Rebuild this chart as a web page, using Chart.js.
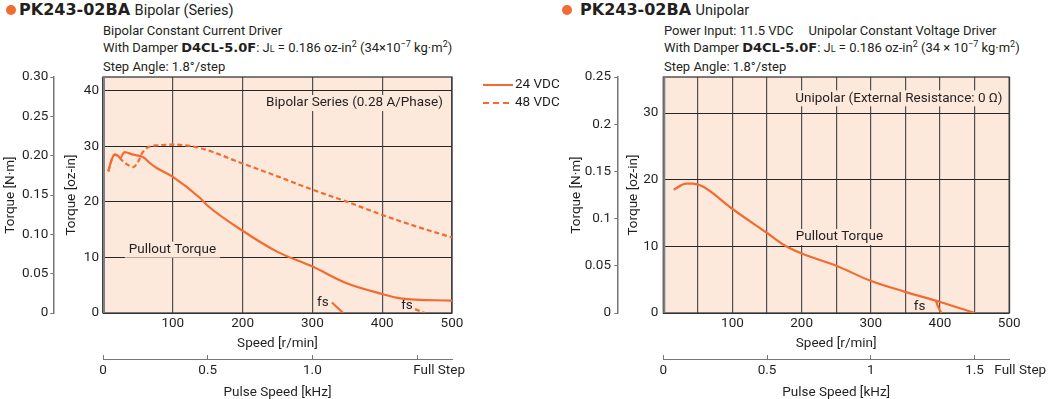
<!DOCTYPE html>
<html>
<head>
<meta charset="utf-8">
<script src="https://cdn.jsdelivr.net/npm/chart.js@4.4.1/dist/chart.umd.min.js"></script>
<style>
body{margin:0;width:1053px;height:399px;background:#fff;position:relative;overflow:hidden;font-family:Roboto,sans-serif;color:#231f20}
.t{position:absolute;white-space:nowrap}
.head{font-family:Roboto,sans-serif;font-size:14.5px;line-height:19px;top:0}
.head b{font-family:'DejaVu Sans',sans-serif;font-size:16px;margin-right:1px}
.dot{position:absolute;width:10px;height:10px;border-radius:50%;background:#f26b30;top:5px}
.sub{font-size:13px;line-height:17px;top:22px}
.sub b{font-family:'DejaVu Sans',sans-serif;font-size:13px}
.gap{display:inline-block;width:15px}
sup{font-size:9px;line-height:0;vertical-align:5px}
.s{font-size:9px}
canvas{position:absolute;top:0}
</style>
</head>
<body>
<div class="dot" style="left:6px"></div>
<div class="t head" style="left:19px"><b>PK243-02BA</b> Bipolar (Series)</div>
<div class="t sub" style="left:103px">Bipolar Constant Current Driver<br>With Damper <b>D4CL-5.0F</b>: J<span class="s">L</span> = 0.186 oz-in<sup>2</sup> (34×10<sup>−7</sup> kg·m<sup>2</sup>)<br>Step Angle: 1.8°/step</div>

<div class="dot" style="left:562px"></div>
<div class="t head" style="left:580px"><b>PK243-02BA</b> Unipolar</div>
<div class="t sub" style="left:664px">Power Input: 11.5 VDC<span class="gap"></span>Unipolar Constant Voltage Driver<br>With Damper <b>D4CL-5.0F</b>: J<span class="s">L</span> = 0.186 oz-in<sup>2</sup> (34 × 10<sup>−7</sup> kg·m<sup>2</sup>)<br>Step Angle: 1.8°/step</div>

<canvas id="bipolar" width="565" height="399" style="left:0"></canvas>
<canvas id="unipolar" width="488" height="399" style="left:565px"></canvas>

<script>
// bipolar (series) pullout torque, speed in r/min, torque in oz-in
const bipSpeed24 = [7.6, 12.4, 16.6, 21.4, 24.7, 30.5, 43.4, 57.7, 67, 77, 99, 139, 150, 200, 250, 300, 349, 400, 426, 500];
const bipTorque24 = [25.5, 27.6, 28.5, 28.3, 27.9, 28.95, 28.5, 28.05, 27.0, 26.1, 24.6, 20.7, 19.3, 14.8, 11.0, 8.35, 5.35, 3.42, 2.64, 2.22];
const bipSpeed48 = [7.6, 12.4, 16.6, 21.9, 27, 33.9, 43.4, 50.6, 55.4, 62.6, 79.3, 103, 139, 200, 250, 300, 349, 400, 449.5, 500];
const bipTorque48 = [25.5, 27.6, 28.5, 28.2, 27.5, 26.8, 26.25, 27.3, 28.65, 29.7, 30.2, 30.3, 29.7, 26.9, 24.6, 22.2, 20.05, 17.66, 15.55, 13.6];
const bipFsSpeed24 = [328, 344];
const bipFsTorque24 = [1.9, 0];
const bipFsSpeed48 = [447, 461];
const bipFsTorque48 = [0.7, 0];

// unipolar pullout torque
const uniSpeed = [15.1, 33, 42.4, 56.6, 100, 150, 174.5, 199.4, 250, 299.4, 349.9, 400, 450.4];
const uniTorque = [18.5, 19.4, 19.4, 19.0, 15.6, 12.0, 10.2, 8.95, 7.1, 4.83, 3.17, 1.66, 0];
const uniFsSpeed = [394, 396.5, 402];
const uniFsTorque = [1.9, 1.1, 0];

// axis ticks and labels
const bipOzTicks = [0, 10, 20, 30, 40];
const uniOzTicks = [0, 10, 20, 30];
const bipNmTicks = [0, 0.05, 0.10, 0.15, 0.20, 0.25, 0.30];
const bipNmLabels = ['0', '0.05', '0.10', '0.15', '0.20', '0.25', '0.30'];
const uniNmTicks = [0, 0.05, 0.1, 0.15, 0.2, 0.25];
const uniNmLabels = ['0', '0.05', '0.1', '0.15', '0.2', '0.25'];
const bipKhzTicks = [0, 0.5, 1.0, 1.5, 1.605];
const bipKhzLabels = ['0', '0.5', '1.0', '', 'Full Step'];
const uniKhzTicks = [0, 0.5, 1, 1.5, 1.72];
const uniKhzLabels = ['0', '0.5', '1', '1.5', 'Full Step'];

const OZ_PER_NM = 141.612;
const ORANGE = '#f26b30';
const FILL = '#fde8dc';
const FONT = 'Roboto, sans-serif';

Chart.defaults.font.family = FONT;
Chart.defaults.font.size = 13.5;
Chart.defaults.color = '#231f20';

function pts(xs, ys) {
    return xs.map((x, i) => ({x: x, y: ys[i]}));
}

function line(label, xs, ys, dash) {
    return {
        label: label,
        data: pts(xs, ys),
        borderColor: ORANGE,
        borderWidth: 2.2,
        borderDash: dash || [],
        pointRadius: 0,
        cubicInterpolationMode: 'monotone',
        fill: false
    };
}

const framePlugin = {
    id: 'frame',
    beforeDraw(chart) {
        const a = chart.chartArea;
        const ctx = chart.ctx;
        ctx.save();
        ctx.fillStyle = FILL;
        ctx.fillRect(a.left, a.top, a.right - a.left, a.bottom - a.top);
        ctx.restore();
    },
    beforeDatasetsDraw(chart, args, opts) {
        const a = chart.chartArea;
        const ctx = chart.ctx;
        ctx.save();
        ctx.strokeStyle = '#3a3a3a';
        ctx.lineWidth = 1.3;
        ctx.strokeRect(a.left, a.top, a.right - a.left, a.bottom - a.top);
        ctx.strokeStyle = '#808080';
        ctx.lineWidth = 2;
        ctx.beginPath();
        ctx.moveTo(a.left + 1, a.top);
        ctx.lineTo(a.left + 1, a.bottom);
        ctx.stroke();

        ctx.font = '13.5px ' + FONT;
        ctx.textBaseline = 'middle';
        for (const n of opts.notes || []) {
            const px = chart.scales.x.getPixelForValue(n.x);
            const py = chart.scales.y.getPixelForValue(n.y);
            const w = ctx.measureText(n.text).width;
            let left = px;
            if (n.align === 'right') left = px - w;
            if (n.align === 'center') left = px - w / 2;
            if (n.bg) {
                ctx.fillStyle = FILL;
                ctx.fillRect(left - 4, py - 8, w + 8, 16);
            }
            ctx.fillStyle = '#231f20';
            ctx.textAlign = 'left';
            ctx.fillText(n.text, left, py);
        }
        ctx.restore();
    },
    afterDraw(chart, args, opts) {
        if (!opts.legend) return;
        const a = chart.chartArea;
        const ctx = chart.ctx;
        const items = chart.data.datasets.filter(d => d.label.indexOf('fs') !== 0);
        ctx.save();
        ctx.font = '13.5px ' + FONT;
        ctx.textBaseline = 'middle';
        items.forEach((d, i) => {
            const y = a.top + 8 + i * 18;
            ctx.strokeStyle = d.borderColor;
            ctx.lineWidth = 2;
            ctx.setLineDash(d.borderDash.length ? [6, 4] : []);
            ctx.beginPath();
            ctx.moveTo(a.right + 31, y);
            ctx.lineTo(a.right + 61, y);
            ctx.stroke();
            ctx.fillStyle = '#231f20';
            ctx.fillText(d.label, a.right + 63, y);
        });
        ctx.restore();
    }
};

function makeScales(c) {
    return {
        x: {
            type: 'linear', position: 'bottom', min: 0, max: 500, weight: 0,
            ticks: {stepSize: c.xStep, padding: 3, maxRotation: 0, autoSkip: false,
                callback: v => (v > 0 && v % 100 === 0) ? v : ''},
            grid: {color: '#505050', lineWidth: 1.2, drawTicks: false},
            border: {display: false},
            title: {display: true, text: 'Speed [r/min]', padding: {top: 0, bottom: 7}},
            afterFit: s => { s.height = 46; }
        },
        khz: {
            type: 'linear', position: 'bottom', min: 0, max: 500 / 300, weight: 1,
            afterBuildTicks: s => { s.ticks = c.khzTicks.map(v => ({value: v})); },
            ticks: {padding: 8, maxRotation: 0, autoSkip: false, callback: (v, i) => c.khzLabels[i]},
            grid: {drawOnChartArea: false, tickLength: -4, lineWidth: 1,
                tickColor: ctx => (ctx.tick && ctx.tick.value > 1.55) ? 'rgba(0,0,0,0)' : '#777'},
            border: {color: '#777', width: 1},
            title: {display: true, text: 'Pulse Speed [kHz]', padding: {top: 0, bottom: -2}},
            afterFit: s => { s.height = 40; }
        },
        y: {
            type: 'linear', position: 'left', min: 0, max: c.nmMax * OZ_PER_NM, weight: 0,
            afterBuildTicks: s => { s.ticks = c.ozTicks.map(v => ({value: v})); },
            ticks: {padding: c.ozPad},
            grid: {color: '#262626', lineWidth: 1, drawTicks: false},
            border: {display: false},
            title: {display: true, text: 'Torque [oz-in]', padding: {top: c.ozTitlePad, bottom: 0}},
            afterFit: s => { s.width = c.ozWidth; }
        },
        nm: {
            type: 'linear', position: 'left', min: 0, max: c.nmMax, weight: 1,
            afterBuildTicks: s => { s.ticks = c.nmTicks.map(v => ({value: v})); },
            ticks: {padding: c.nmPad, callback: (v, i) => c.nmLabels[i]},
            grid: {drawOnChartArea: false, tickLength: 3, color: '#777'},
            border: {color: '#777', width: 1.5},
            title: {display: true, text: 'Torque [N·m]', padding: {top: c.nmTitlePad, bottom: 0}},
            afterFit: s => { s.width = c.nmWidth; }
        }
    };
}

new Chart(document.getElementById('bipolar'), {
    type: 'line',
    data: {
        datasets: [
            line('24 VDC', bipSpeed24, bipTorque24),
            line('48 VDC', bipSpeed48, bipTorque48, [5, 3]),
            line('fs 24 VDC', bipFsSpeed24, bipFsTorque24),
            line('fs 48 VDC', bipFsSpeed48, bipFsTorque48, [5, 3])
        ]
    },
    options: {
        responsive: false,
        animation: false,
        layout: {padding: {top: 77, right: 113, left: 0, bottom: 0}},
        scales: makeScales({
            xStep: 100, nmMax: 0.3, nmTicks: bipNmTicks, nmLabels: bipNmLabels,
            ozTicks: bipOzTicks, khzTicks: bipKhzTicks, khzLabels: bipKhzLabels,
            nmWidth: 53.3, nmPad: 2, nmTitlePad: 2.6,
            ozWidth: 49.7, ozPad: 4, ozTitlePad: 10.3
        }),
        plugins: {
            legend: {display: false},
            tooltip: {enabled: false},
            frame: {
                legend: true,
                notes: [
                    {text: 'Bipolar Series (0.28 A/Phase)', x: 487, y: 37.8, align: 'right', bg: true},
                    {text: 'Pullout Torque', x: 37, y: 11.4, align: 'left', bg: true},
                    {text: 'fs', x: 315, y: 1.8, align: 'center'},
                    {text: 'fs', x: 435.5, y: 1.26, align: 'center'}
                ]
            }
        }
    },
    plugins: [framePlugin]
});

new Chart(document.getElementById('unipolar'), {
    type: 'line',
    data: {
        datasets: [
            line('Pullout Torque', uniSpeed, uniTorque),
            line('fs', uniFsSpeed, uniFsTorque)
        ]
    },
    options: {
        responsive: false,
        animation: false,
        layout: {padding: {top: 77, right: 36.3, left: 0, bottom: 0}},
        scales: makeScales({
            xStep: 50, nmMax: 0.25, nmTicks: uniNmTicks, nmLabels: uniNmLabels,
            ozTicks: uniOzTicks, khzTicks: uniKhzTicks, khzLabels: uniKhzLabels,
            nmWidth: 52.3, nmPad: 3.3, nmTitlePad: 3.6,
            ozWidth: 46, ozPad: 5, ozTitlePad: 8.3
        }),
        plugins: {
            legend: {display: false},
            tooltip: {enabled: false},
            frame: {
                legend: false,
                notes: [
                    {text: 'Unipolar (External Resistance: 0 Ω)', x: 490.4, y: 32.2, align: 'right', bg: true},
                    {text: 'Pullout Torque', x: 254.6, y: 11.4, align: 'center', bg: true},
                    {text: 'fs', x: 370.6, y: 1.0, align: 'center'}
                ]
            }
        }
    },
    plugins: [framePlugin]
});
</script>
</body>
</html>
